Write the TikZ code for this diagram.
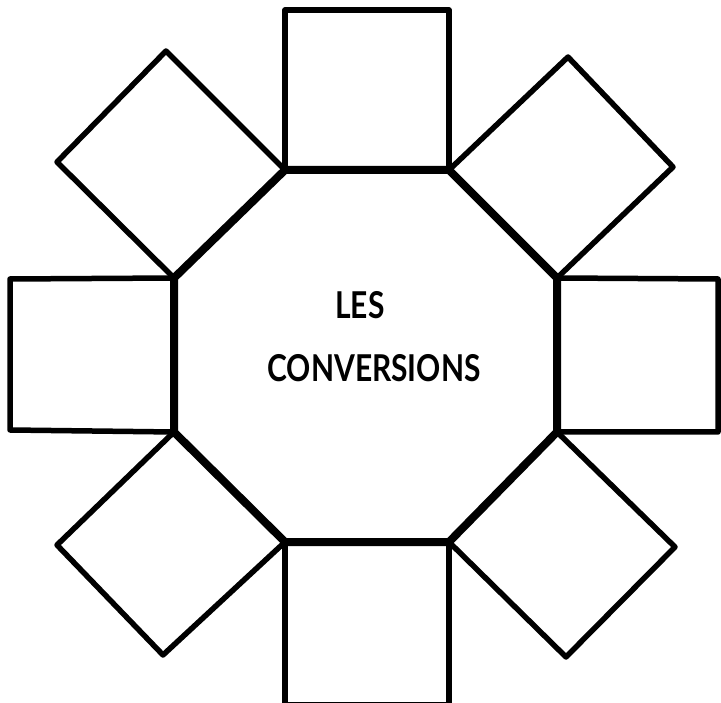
\documentclass[tikz,border=0pt]{standalone}
\usepackage{fontspec}
\setmainfont{Lato}
\begin{document}
\begin{tikzpicture}[x=1pt,y=-1pt,
  box/.style={draw=black,line width=5.5pt,line join=round,fill=none},
  octa/.style={draw=black,line width=8pt,line join=round},
  lbl/.style={anchor=base,inner sep=0pt,font=\fontsize{37}{40}\selectfont\bfseries}]
\useasboundingbox (0,0) rectangle (721,703);
% octagon corners
\coordinate (A) at (285,170);
\coordinate (B) at (449,170);
\coordinate (C) at (557,278);
\coordinate (D) at (557,432);
\coordinate (E) at (449,542);
\coordinate (F) at (285,542);
\coordinate (G) at (174,432);
\coordinate (H) at (174,278);
% outer squares
\draw[box] (A) -- (285,10) -- (449,10) -- (B);
\draw[box] (B) -- (568,57) -- (673,167) -- (C);
\draw[box] (C) -- (718,279) -- (718,432) -- (D);
\draw[box] (D) -- (675,547) -- (566,657) -- (E);
\draw[box] (E) -- (449,705) -- (285,705) -- (F);
\draw[box] (F) -- (163,655) -- (57,545) -- (G);
\draw[box] (G) -- (10,430) -- (10,279) -- (H);
\draw[box] (H) -- (57,162) -- (166,51) -- (A);
% octagon
\draw[octa] (A) -- (B) -- (C) -- (D) -- (E) -- (F) -- (G) -- (H) -- cycle;
% title
\node[lbl] (les) at (360,319) {\scalebox{0.81}[1]{LES}};
\node[lbl] (conv) at (374,382) {\scalebox{0.81}[1]{CONVERSIONS}};
\end{tikzpicture}
\end{document}
